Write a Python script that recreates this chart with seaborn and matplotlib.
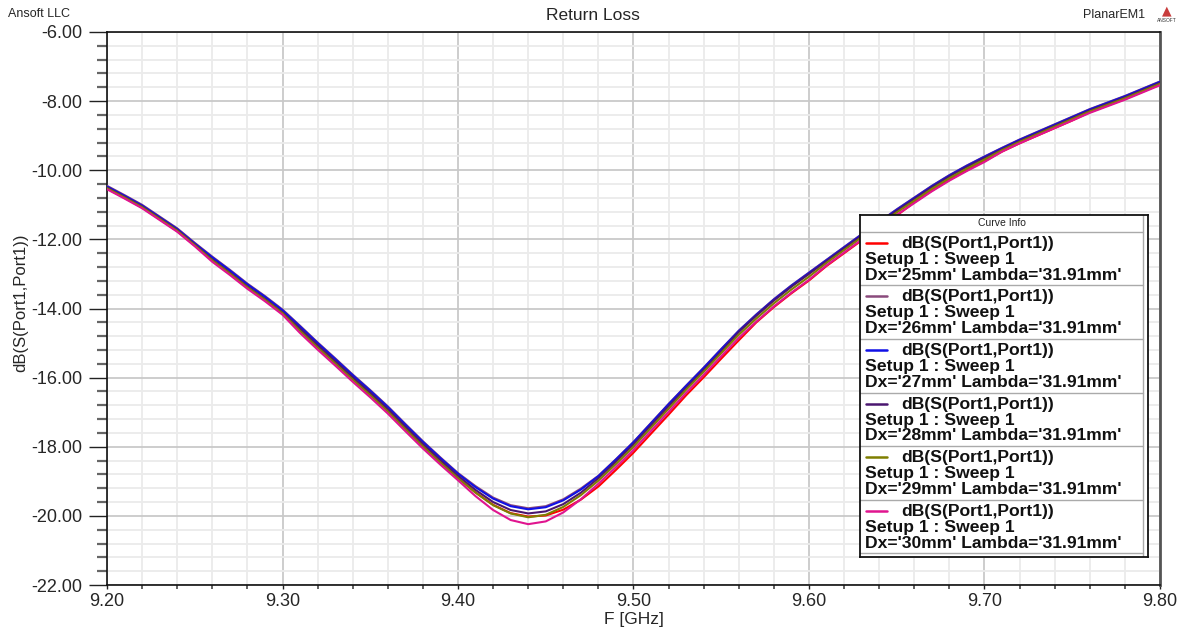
import numpy as np
import pandas as pd
import matplotlib
matplotlib.use("Agg")
import matplotlib.pyplot as plt
import seaborn as sns
from matplotlib.ticker import MultipleLocator, FormatStrFormatter

# ---------------- data ----------------
freq = [round(9.20 + 0.01 * i, 2) for i in range(61)]

dx25 = [-10.53, -10.80, -11.08, -11.42, -11.76, -12.18,
        -12.60, -12.98, -13.38, -13.74, -14.13,
        -14.62, -15.10, -15.56, -16.03, -16.48, -16.95,
        -17.48, -17.98, -18.45, -18.90,
        -19.32, -19.68, -19.92, -20.02, -19.99, -19.82, -19.53,
        -19.15, -18.67, -18.17, -17.62, -17.07,
        -16.51, -15.99, -15.45, -14.92, -14.40, -13.96, -13.56, -13.19,
        -12.77, -12.40, -12.03, -11.67, -11.31, -10.93, -10.59, -10.28, -10.00, -9.74,
        -9.46, -9.22, -9.00, -8.78, -8.56, -8.32, -8.13, -7.94, -7.73, -7.52]

dx26 = [-10.45, -10.72, -11.00, -11.34, -11.68, -12.10,
        -12.50, -12.88, -13.28, -13.64, -14.03,
        -14.50, -14.98, -15.44, -15.91, -16.36, -16.83,
        -17.34, -17.84, -18.31, -18.76,
        -19.14, -19.47, -19.69, -19.78, -19.72, -19.52, -19.21,
        -18.84, -18.36, -17.86, -17.31, -16.76,
        -16.23, -15.71, -15.17, -14.64, -14.17, -13.73, -13.33, -12.96,
        -12.59, -12.22, -11.85, -11.49, -11.13, -10.79, -10.45, -10.14, -9.86, -9.60,
        -9.35, -9.11, -8.89, -8.67, -8.45, -8.23, -8.04, -7.85, -7.64, -7.43]

dx27 = [-10.47, -10.74, -11.02, -11.36, -11.70, -12.12,
        -12.52, -12.90, -13.30, -13.66, -14.05,
        -14.52, -15.00, -15.46, -15.93, -16.38, -16.85,
        -17.36, -17.86, -18.33, -18.78,
        -19.17, -19.50, -19.72, -19.81, -19.75, -19.55, -19.24,
        -18.85, -18.37, -17.87, -17.32, -16.77,
        -16.24, -15.72, -15.18, -14.65, -14.18, -13.74, -13.34, -12.97,
        -12.60, -12.23, -11.86, -11.50, -11.14, -10.80, -10.46, -10.15, -9.87, -9.61,
        -9.36, -9.12, -8.90, -8.68, -8.46, -8.24, -8.05, -7.86, -7.65, -7.44]

dx28 = [-10.50, -10.77, -11.05, -11.39, -11.73, -12.15,
        -12.58, -12.96, -13.36, -13.72, -14.11,
        -14.58, -15.06, -15.52, -15.99, -16.44, -16.91,
        -17.42, -17.92, -18.39, -18.84,
        -19.25, -19.60, -19.83, -19.93, -19.87, -19.66, -19.33,
        -18.91, -18.43, -17.93, -17.38, -16.83,
        -16.30, -15.78, -15.24, -14.68, -14.21, -13.77, -13.37, -13.00,
        -12.63, -12.26, -11.89, -11.53, -11.17, -10.83, -10.49, -10.18, -9.90, -9.64,
        -9.39, -9.15, -8.93, -8.71, -8.49, -8.27, -8.08, -7.89, -7.68, -7.47]

dx29 = [-10.52, -10.79, -11.07, -11.41, -11.75, -12.17,
        -12.61, -12.99, -13.39, -13.75, -14.14,
        -14.65, -15.13, -15.59, -16.06, -16.51, -16.98,
        -17.49, -17.99, -18.46, -18.91,
        -19.33, -19.69, -19.93, -20.04, -19.97, -19.74, -19.40,
        -18.98, -18.50, -18.00, -17.45, -16.90,
        -16.35, -15.83, -15.29, -14.76, -14.29, -13.85, -13.45, -13.08,
        -12.68, -12.31, -11.94, -11.58, -11.22, -10.88, -10.54, -10.23, -9.95, -9.69,
        -9.42, -9.18, -8.96, -8.74, -8.52, -8.30, -8.11, -7.92, -7.71, -7.50]

dx30 = [-10.55, -10.82, -11.10, -11.44, -11.78, -12.20,
        -12.65, -13.03, -13.43, -13.79, -14.18,
        -14.71, -15.19, -15.65, -16.12, -16.57, -17.04,
        -17.55, -18.05, -18.52, -18.97,
        -19.43, -19.83, -20.12, -20.24, -20.16, -19.90, -19.52,
        -19.07, -18.59, -18.09, -17.54, -16.99,
        -16.44, -15.92, -15.38, -14.85, -14.38, -13.94, -13.54, -13.17,
        -12.75, -12.38, -12.01, -11.65, -11.29, -10.95, -10.61, -10.30, -10.02, -9.76,
        -9.46, -9.22, -9.00, -8.78, -8.56, -8.34, -8.15, -7.96, -7.75, -7.54]

dx_labels = ["25mm", "26mm", "27mm", "28mm", "29mm", "30mm"]
series = [dx25, dx26, dx27, dx28, dx29, dx30]
colors = ["#ff0000", "#8a4a7c", "#1010e6", "#4a1670", "#7f7f00", "#e0158f"]

x_ticks = [9.20, 9.30, 9.40, 9.50, 9.60, 9.70, 9.80]
y_ticks = [-22, -20, -18, -16, -14, -12, -10, -8, -6]

# ---------------- figure ----------------
sns.set_style("white")
plt.rcParams["font.family"] = ["Liberation Sans", "DejaVu Sans"]

W, H = 1187, 627
fig = plt.figure(figsize=(W / 100, H / 100), dpi=100)
L, R, T, B = 107, 1160, 32, 585
ax = fig.add_axes([L / W, 1 - B / H, (R - L) / W, (B - T) / H])

df = pd.concat([pd.DataFrame({"F": freq, "dB": s, "Curve": lab})
                for s, lab in zip(series, dx_labels)], ignore_index=True)
sns.lineplot(data=df, x="F", y="dB", hue="Curve", palette=colors,
             legend=False, linewidth=1.5, ax=ax, sort=False,
             estimator=None, zorder=3)

ax.set_xlim(9.2, 9.8)
ax.set_ylim(-22, -6)
ax.set_xticks(x_ticks)
ax.set_yticks(y_ticks)
ax.xaxis.set_major_formatter(FormatStrFormatter("%.2f"))
ax.yaxis.set_major_formatter(FormatStrFormatter("%.2f"))
ax.xaxis.set_minor_locator(MultipleLocator(0.02))
ax.yaxis.set_minor_locator(MultipleLocator(0.4))

ax.grid(True, which="minor", color="#ebebeb", linewidth=1.3, zorder=0)
ax.grid(True, which="major", color="#c9c9c9", linewidth=1.3, zorder=0)
ax.set_axisbelow(True)

ax.tick_params(which="both", left=True, bottom=True, right=False, top=False)
ax.tick_params(axis="y", which="major", length=13, width=1.0, color="#222222",
               labelsize=13, pad=5, direction="out")
ax.tick_params(axis="y", which="minor", length=7.5, width=1.6, color="#666666",
               direction="out")
ax.tick_params(axis="x", which="major", length=3, width=1.0, color="#222222",
               labelsize=13, pad=3, direction="out")
ax.tick_params(axis="x", which="minor", length=3, width=1.3, color="#555555",
               direction="out")

for side in ["left", "bottom", "top"]:
    ax.spines[side].set_color("#111111")
    ax.spines[side].set_linewidth(1.2)
ax.spines["right"].set_color("#555555")
ax.spines["right"].set_linewidth(2.0)

ax.set_xlabel("F [GHz]", fontsize=12.5, labelpad=1)
ax.set_ylabel("dB(S(Port1,Port1))", fontsize=12, labelpad=0)
ax.yaxis.set_label_coords(-0.0745, 0.51)

fig.text(593 / W, 1 - 16 / H, "Return Loss", ha="center", va="center", fontsize=12.5)
fig.text(8 / W, 1 - 14 / H, "Ansoft LLC", ha="left", va="center", fontsize=9)
fig.text(1145 / W, 1 - 15 / H, "PlanarEM1", ha="right", va="center", fontsize=9)
fig.text(1167 / W, 1 - 11 / H, "\u25B2", ha="center", va="center", fontsize=9,
         color="#c83c3c", family=["DejaVu Sans"])
fig.text(1167 / W, 1 - 20 / H, "ANSOFT", ha="center", va="center", fontsize=3.5,
         color="#333333")

# ---------------- legend ("Curve Info") ----------------
lx0, lx1, ly0, ly1 = 860, 1148, 215, 557
lax = fig.add_axes([lx0 / W, 1 - ly1 / H, (lx1 - lx0) / W, (ly1 - ly0) / H])
lax.set_xlim(lx0, lx1)
lax.set_ylim(ly1, ly0)
lax.set_facecolor("white")
lax.set_xticks([])
lax.set_yticks([])
for sp in lax.spines.values():
    sp.set_color("#111111")
    sp.set_linewidth(1.3)

lax.plot([1143, 1143], [ly0, ly1], color="#aaaaaa", lw=1.0)
lax.text(1002, 223.5, "Curve Info", ha="center", va="center", fontsize=7.5,
         color="#222222")
row_top = 231.7
row_h = 53.6
lax.plot([lx0, 1143], [row_top, row_top], color="#aaaaaa", lw=1.0)
for k, (lab, col) in enumerate(zip(dx_labels, colors)):
    top = row_top + k * row_h
    lax.plot([866, 887], [top + 11, top + 11], color=col, lw=1.8)
    lax.text(901, top + 11.5, "dB(S(Port1,Port1))", ha="left", va="center",
             fontsize=12.6, fontweight="bold", color="#111111")
    lax.text(865, top + 27.5, "Setup 1 : Sweep 1", ha="left", va="center",
             fontsize=12.6, fontweight="bold", color="#111111")
    lax.text(865, top + 43.5, f"Dx='{lab}' Lambda='31.91mm'", ha="left",
             va="center", fontsize=12.6, fontweight="bold", color="#111111")
    lax.plot([lx0, 1143], [top + row_h, top + row_h], color="#aaaaaa", lw=1.0)

fig.savefig("out.png", dpi=100, facecolor="white")
